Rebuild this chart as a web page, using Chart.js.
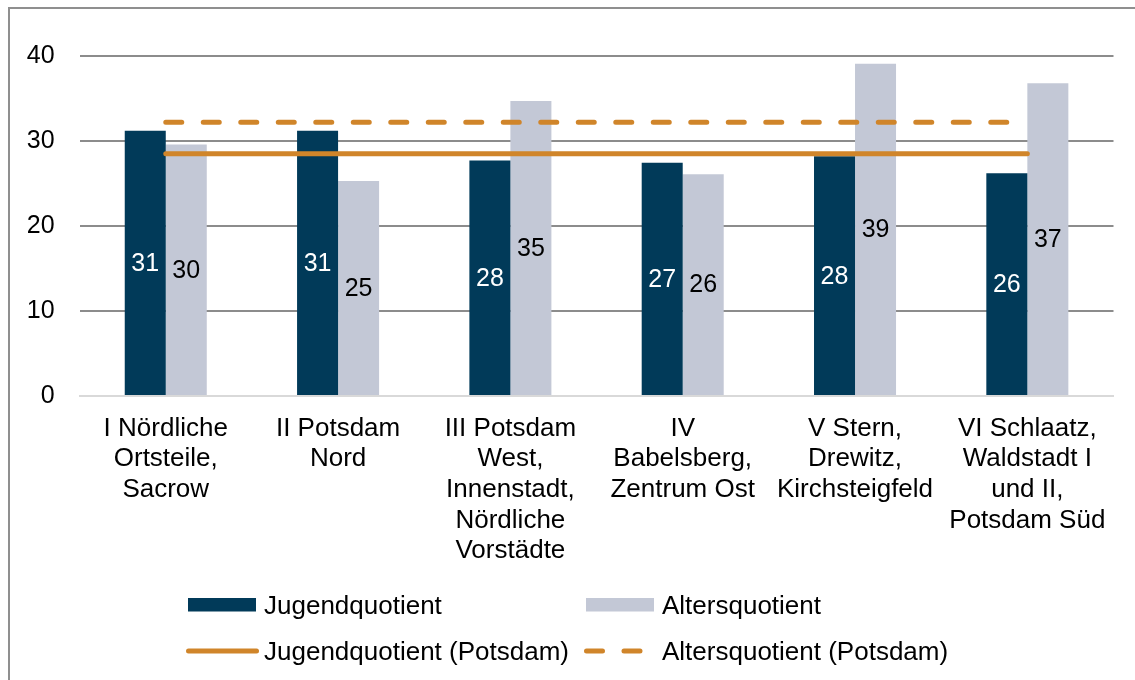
<!DOCTYPE html>
<html>
<head>
<meta charset="utf-8">
<script src="https://cdn.jsdelivr.net/npm/chart.js@4/dist/chart.umd.min.js"></script>
<style>
  html, body { margin: 0; padding: 0; background: #fff; }
  body { width: 1135px; height: 680px; position: relative; overflow: hidden; font-family: "Liberation Sans", Arial, sans-serif; }
  #frame { position: absolute; left: 8px; top: 7px; width: 1200px; height: 800px; border-left: 2px solid #8f8f8f; border-top: 2px solid #8f8f8f; }
  #c { position: absolute; left: 0; top: 0; }
  .lg { position: absolute; font-size: 26px; color: #000; line-height: 30px; white-space: nowrap; }
  .sym { position: absolute; }
</style>
</head>
<body>
<div id="frame"></div>
<canvas id="c" width="1135" height="680"></canvas>
<div id="legend"></div>
<script>
// ---- data ----
const categories = [
  ["I Nördliche", "Ortsteile,", "Sacrow"],
  ["II Potsdam", "Nord"],
  ["III Potsdam", "West,", "Innenstadt,", "Nördliche", "Vorstädte"],
  ["IV", "Babelsberg,", "Zentrum Ost"],
  ["V Stern,", "Drewitz,", "Kirchsteigfeld"],
  ["VI Schlaatz,", "Waldstadt I", "und II,", "Potsdam Süd"]
];
const jugendquotient = [31.2, 31.2, 27.7, 27.45, 28.2, 26.2];
const altersquotient = [29.6, 25.3, 34.7, 26.1, 39.1, 36.8];
const jugendPotsdam = [28.5, 28.5, 28.5, 28.5, 28.5, 28.5];
const altersPotsdam = [32.2, 32.2, 32.2, 32.2, 32.2, 32.2];
const yTicks = [0, 10, 20, 30, 40];

const NAVY = '#013a59';
const GREY = '#c3c8d6';
const ORANGE = '#d0852a';
const FONT = '"Liberation Sans", Arial, sans-serif';

const barLabels = {
  id: 'barLabels',
  afterDatasetsDraw(chart) {
    const ctx = chart.ctx;
    ctx.save();
    ctx.font = '25px ' + FONT;
    ctx.textAlign = 'center';
    ctx.textBaseline = 'middle';
    chart.data.datasets.forEach((ds, i) => {
      if (ds.type !== 'bar') return;
      const meta = chart.getDatasetMeta(i);
      meta.data.forEach((el, j) => {
        const { x, y, base } = el.getProps(['x', 'y', 'base'], true);
        ctx.fillStyle = ds.labelColor;
        ctx.fillText(String(Math.round(ds.data[j])), x, (y + base) / 2 + 1);
      });
    });
    ctx.restore();
  }
};

const datasets = [
  { type: 'line', label: 'Jugendquotient (Potsdam)', data: jugendPotsdam, borderColor: ORANGE, backgroundColor: ORANGE,
    borderWidth: 5, pointRadius: 0, borderCapStyle: 'round', fill: false, order: 0 },
  { type: 'line', label: 'Altersquotient (Potsdam)', data: altersPotsdam, borderColor: ORANGE, backgroundColor: ORANGE,
    borderWidth: 5, borderDash: [16, 21.5], pointRadius: 0, borderCapStyle: 'round', fill: false, order: 0 },
  { type: 'bar', label: 'Jugendquotient', data: jugendquotient, backgroundColor: NAVY, labelColor: '#ffffff', order: 1 },
  { type: 'bar', label: 'Altersquotient', data: altersquotient, backgroundColor: GREY, labelColor: '#000000', order: 1 }
];

const chart = new Chart(document.getElementById('c'), {
  data: { labels: categories, datasets },
  options: {
    responsive: false,
    devicePixelRatio: 1,
    animation: false,
    layout: { padding: { top: 56, right: 21.5, bottom: 0, left: 0 } },
    datasets: { bar: { categoryPercentage: 0.476, barPercentage: 1.0 } },
    plugins: { legend: { display: false }, tooltip: { enabled: false } },
    scales: {
      x: {
        grid: { display: false, drawTicks: false },
        border: { display: true, color: '#d9d9d9', width: 2 },
        ticks: { color: '#000', font: { family: FONT, size: 26, lineHeight: 1.18 }, padding: 17, maxRotation: 0, autoSkip: false },
        afterFit(scale) { scale.height = 284; }
      },
      y: {
        min: 0, max: 40,
        afterBuildTicks(scale) { scale.ticks = yTicks.map(v => ({ value: v })); },
        grid: { color: ctx => (ctx.tick && ctx.tick.value === 0) ? 'rgba(0,0,0,0)' : '#8c8c8c', lineWidth: 2, drawTicks: false },
        border: { display: false },
        ticks: { color: '#000', font: { family: FONT, size: 25 }, padding: 25 },
        afterFit(scale) { scale.width = 79.6; }
      }
    }
  },
  plugins: [barLabels]
});

// ---- HTML legend built from the datasets ----
const legend = document.getElementById('legend');
const order = [2, 3, 0, 1];
const slots = [
  { sx: 188, tx: 264, cy: 605 },
  { sx: 586, tx: 662, cy: 605 },
  { sx: 186, tx: 264, cy: 651 },
  { sx: 584, tx: 662, cy: 651 }
];
order.forEach((di, k) => {
  const ds = chart.data.datasets[di];
  const s = slots[k];
  const svgNS = 'http://www.w3.org/2000/svg';
  const svg = document.createElementNS(svgNS, 'svg');
  svg.setAttribute('width', 74); svg.setAttribute('height', 20);
  svg.setAttribute('class', 'sym');
  svg.style.left = s.sx + 'px'; svg.style.top = (s.cy - 10) + 'px';
  if (ds.type === 'bar') {
    const r = document.createElementNS(svgNS, 'rect');
    r.setAttribute('x', 0); r.setAttribute('y', 3); r.setAttribute('width', 68); r.setAttribute('height', 13.5);
    r.setAttribute('fill', ds.backgroundColor);
    svg.appendChild(r);
  } else {
    const l = document.createElementNS(svgNS, 'line');
    l.setAttribute('x1', 2.5); l.setAttribute('x2', ds.borderDash ? 67.5 : 70.5);
    l.setAttribute('y1', 10); l.setAttribute('y2', 10);
    l.setAttribute('stroke', ds.borderColor); l.setAttribute('stroke-width', 5);
    l.setAttribute('stroke-linecap', 'round');
    if (ds.borderDash) l.setAttribute('stroke-dasharray', ds.borderDash.join(' '));
    svg.appendChild(l);
  }
  legend.appendChild(svg);
  const t = document.createElement('div');
  t.className = 'lg';
  t.textContent = ds.label;
  t.style.left = s.tx + 'px'; t.style.top = (s.cy - 15) + 'px';
  legend.appendChild(t);
});
</script>
</body>
</html>
